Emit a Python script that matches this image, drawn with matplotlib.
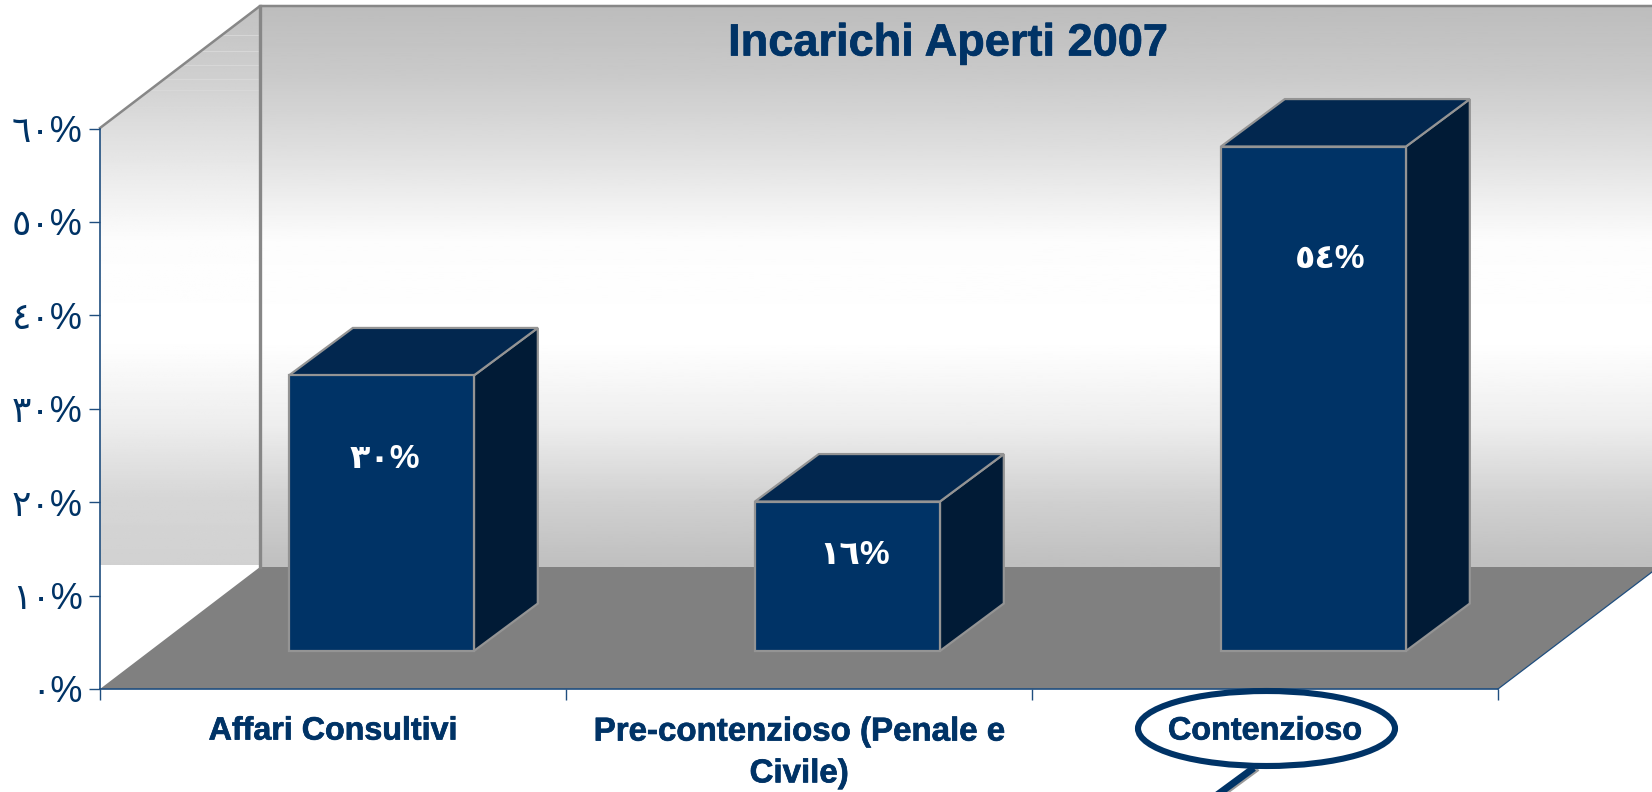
import numpy as np
import matplotlib
matplotlib.use('Agg')
import matplotlib.pyplot as plt
import matplotlib.patheffects as pe
from matplotlib.patches import Polygon, Ellipse

plt.rcParams['font.family'] = ['Liberation Sans', 'DejaVu Sans']

categories = ['Affari Consultivi', 'Pre-contenzioso (Penale e\nCivile)', 'Contenzioso']
values = [29.5, 16, 54]
value_labels = ['٣٠%', '١٦%', '٥٤%']
tick_values = [0, 10, 20, 30, 40, 50, 60]
tick_labels = ['٠%', '١٠%', '٢٠%', '٣٠%', '٤٠%', '٥٠%', '٦٠%']

W, H = 1652, 792
navy = '#003366'
top_col = '#02274f'
side_col = '#011b36'
edge = '#949494'

fig = plt.figure(figsize=(W / 100, H / 100), dpi=100, facecolor='white')

# background layer in pixels, for the fake 3d room
bg = fig.add_axes([0, 0, 1, 1], zorder=0)
bg.set_xlim(0, W)
bg.set_ylim(H, 0)
bg.axis('off')

# wall gradient
stops_t = [0, 0.12, 0.25, 0.42, 0.6, 0.75, 0.88, 1]
stops_v = [0.74, 0.79, 0.87, 0.99, 1.0, 0.93, 0.82, 0.75]
grad = np.interp(np.linspace(0, 1, 300), stops_t, stops_v).reshape(-1, 1)
bg.imshow(grad, extent=[260, W, 567, 6], cmap='gray', vmin=0, vmax=1, aspect='auto', zorder=1)
side_v = np.interp(np.linspace(0, 1, 300), stops_t, np.array(stops_v) + [0.02, 0.02, 0.02, 0, 0, 0, 0.02, 0.07])
im2 = bg.imshow(side_v.reshape(-1, 1), extent=[100, 260, 565, 6], cmap='gray', vmin=0, vmax=1, aspect='auto', zorder=1)
clip = Polygon([(100, 128), (260, 6), (260, 565), (100, 565)], closed=True, transform=bg.transData, fc='none', ec='none')
bg.add_patch(clip)
im2.set_clip_path(clip)
# faint banding near the top of the side wall
for yb in [35, 51, 65, 79, 90, 107, 115]:
    xb = 100 + (128 - yb) * 160 / 122
    bg.plot([xb, 258], [yb, yb], color='#dadada', lw=0.6, zorder=2)
bg.set_xlim(0, W)
bg.set_ylim(H, 0)

# floor
bg.add_patch(Polygon([(100, 689), (260, 567), (W, 567), (W, 572), (1498, 689)], closed=True, fc='#808080', ec='none', zorder=2))
bg.plot([1498, W], [689, 572], color='#1f4e7f', lw=0.9, zorder=3)
# wall edges
bg.plot([100, 260, W], [128, 6, 6], color='#878787', lw=1.8, zorder=3)
bg.plot([260, 260], [6, 567], color='#878787', lw=2.4, zorder=3)

# main axes, the one with the real scales
ax = fig.add_axes([100 / W, (H - 689) / H, 1398 / W, 560.5 / H], zorder=1)
ax.patch.set_alpha(0)
ax.set_xlim(0, 3)
ax.set_ylim(0, 60)
for s in ['top', 'right']:
    ax.spines[s].set_visible(False)
for s in ['left', 'bottom']:
    ax.spines[s].set_color('#1f4e7f')
    ax.spines[s].set_linewidth(1.2)
ax.set_xticks([0, 1, 2, 3])
ax.set_xticklabels([])
ax.set_yticks(tick_values)
ax.set_yticklabels(tick_labels, fontsize=26, color=navy)
ax.tick_params(axis='y', length=8, width=1, color='#1f4e7f', pad=4.5)
ax.tick_params(axis='x', length=8, width=1, color='#1f4e7f')

# bars: front, top, side
bar_w = 0.397
base = 4.07
dx = 0.137
dy = 5.08
for i, v in enumerate(values):
    x0 = i + 0.604 - bar_w / 2
    x1 = x0 + bar_w
    y0 = base
    y1 = base + v
    ax.add_patch(Polygon([(x1, y0), (x1 + dx, y0 + dy), (x1 + dx, y1 + dy), (x1, y1)], closed=True,
                         fc=side_col, ec=edge, lw=1.6, zorder=3, clip_on=False))
    ax.add_patch(Polygon([(x0, y1), (x0 + dx, y1 + dy), (x1 + dx, y1 + dy), (x1, y1)], closed=True,
                         fc=top_col, ec=edge, lw=1.6, zorder=3, clip_on=False))
    ax.add_patch(Polygon([(x0, y0), (x1, y0), (x1, y1), (x0, y1)], closed=True,
                         fc=navy, ec=edge, lw=1.6, zorder=4, clip_on=False))

# value labels inside the bars
label_px = [(385, 459), (855, 556), (1330, 259)]
for (px, py), t in zip(label_px, value_labels):
    ax.text(px, py, t, transform=bg.transData, color='white', fontsize=24, fontweight='bold',
            ha='center', va='center', zorder=6)

# category labels, slightly heavier like the original
heavy = [pe.withStroke(linewidth=0.5, foreground=navy)]
cat_sizes = [23.2, 23.8, 23.3]
for i, c in enumerate(categories):
    ax.text(i + 0.5, -2.95, c, color=navy, fontsize=cat_sizes[i], fontweight='bold', ha='center', va='top',
            linespacing=1.45, clip_on=False, path_effects=heavy)

ax.text(948, 44, 'Incarichi Aperti 2007', transform=bg.transData, color=navy, fontsize=32.5,
        fontweight='bold', ha='center', va='center', zorder=6, path_effects=heavy)

# callout round the last category
ax.plot([1221, 1255], [795, 770], transform=bg.transData, color='#9a9a9a', lw=4.5, clip_on=False, zorder=6)
ax.plot([1217, 1251], [795, 770], transform=bg.transData, color=navy, lw=5, clip_on=False, zorder=7)
ax.add_patch(Ellipse((1266.5, 728.5), 257, 75, transform=bg.transData, fc='none', ec=navy, lw=4.4,
                     clip_on=False, zorder=7))

fig.savefig('out.png', dpi=100)
